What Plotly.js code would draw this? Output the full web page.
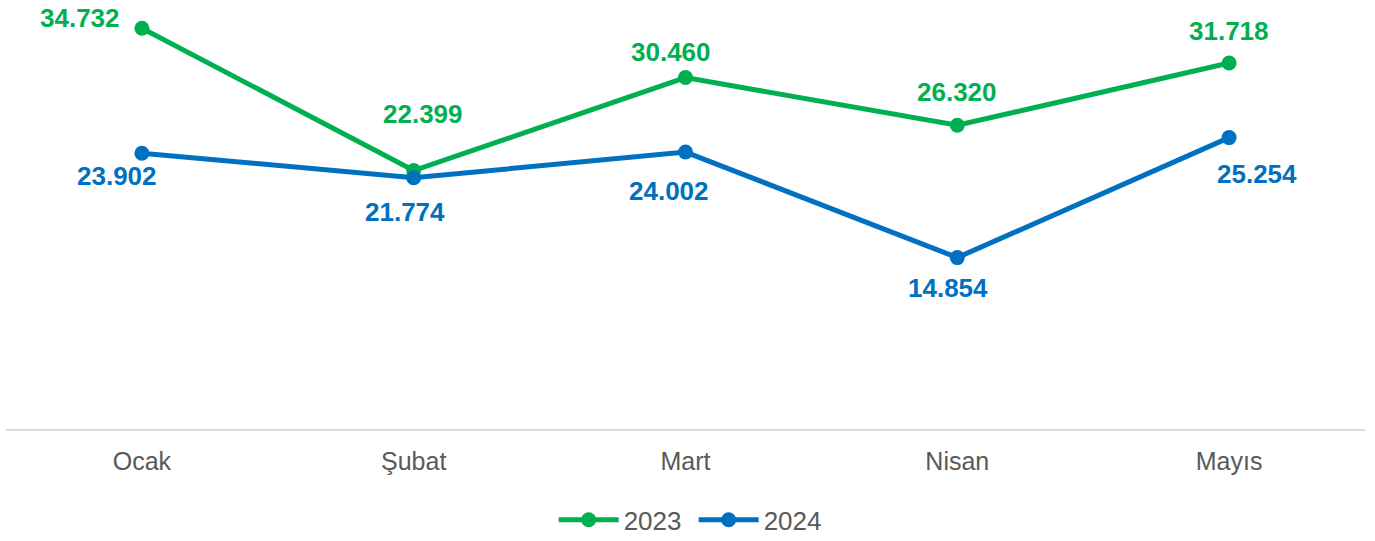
<!DOCTYPE html>
<html>
<head>
<meta charset="utf-8">
<script src="https://cdn.plot.ly/plotly-3.0.1.min.js"></script>
<style>
  html, body { margin: 0; padding: 0; background: #fff; }
  #chart { width: 1375px; height: 541px; }
</style>
</head>
<body>
<div id="chart"></div>
<script>
// data
var months = ["Ocak", "Şubat", "Mart", "Nisan", "Mayıs"];
var series_names = ["2023", "2024"];
var values_2023 = [34.732, 22.399, 30.460, 26.320, 31.718];
var values_2024 = [23.902, 21.774, 24.002, 14.854, 25.254];

var green = "#00b050";
var blue = "#0070c0";

// label offsets in px (x, y) from each point
var shift_2023 = [[-62, 10], [9, 57], [-15, 26], [0, 33], [0, 32]];
var shift_2024 = [[-25, -23], [-9, -34], [-17, -39], [-9, -30], [28, -36]];

function fmt(v) {
  return v.toFixed(3);
}

function make_trace(name, vals, color) {
  return {
    x: months,
    y: vals,
    name: name,
    type: "scatter",
    mode: "lines+markers",
    line: { color: color, width: 5 },
    marker: { color: color, size: 15 },
    hoverinfo: "none"
  };
}

var data = [
  make_trace(series_names[0], values_2023, green),
  make_trace(series_names[1], values_2024, blue)
];

var annotations = [];
function add_labels(vals, shifts, color) {
  for (var i = 0; i < vals.length; i++) {
    annotations.push({
      x: months[i],
      y: vals[i],
      xref: "x",
      yref: "y",
      text: fmt(vals[i]),
      showarrow: false,
      xanchor: "center",
      yanchor: "middle",
      xshift: shifts[i][0],
      yshift: shifts[i][1],
      font: { family: "Liberation Sans, Arial, sans-serif", size: 26, color: color, weight: "bold" }
    });
  }
}
add_labels(values_2023, shift_2023, green);
add_labels(values_2024, shift_2024, blue);

var layout = {
  width: 1375,
  height: 541,
  margin: { l: 6, r: 10, t: 0, b: 112 },
  paper_bgcolor: "#ffffff",
  plot_bgcolor: "#ffffff",
  font: { family: "Liberation Sans, Arial, sans-serif", color: "#595959" },
  showlegend: true,
  legend: {
    orientation: "h",
    x: 0.506,
    xanchor: "center",
    y: 0.039,
    yref: "container",
    yanchor: "middle",
    font: { size: 26, color: "#595959" },
    itemwidth: 60,
    entrywidth: 65,
    entrywidthmode: "pixels",
    tracegroupgap: 0
  },
  xaxis: {
    type: "category",
    range: [-0.5, 4.5],
    showgrid: false,
    zeroline: false,
    showline: true,
    linecolor: "#d9d9d9",
    linewidth: 2,
    ticks: "",
    ticklabelstandoff: 9,
    tickfont: { size: 25, color: "#595959" },
    fixedrange: true
  },
  yaxis: {
    range: [0, 37.18],
    visible: false,
    showgrid: false,
    zeroline: false,
    fixedrange: true
  },
  annotations: annotations
};

Plotly.newPlot("chart", data, layout, { displayModeBar: false, staticPlot: true });
</script>
</body>
</html>
